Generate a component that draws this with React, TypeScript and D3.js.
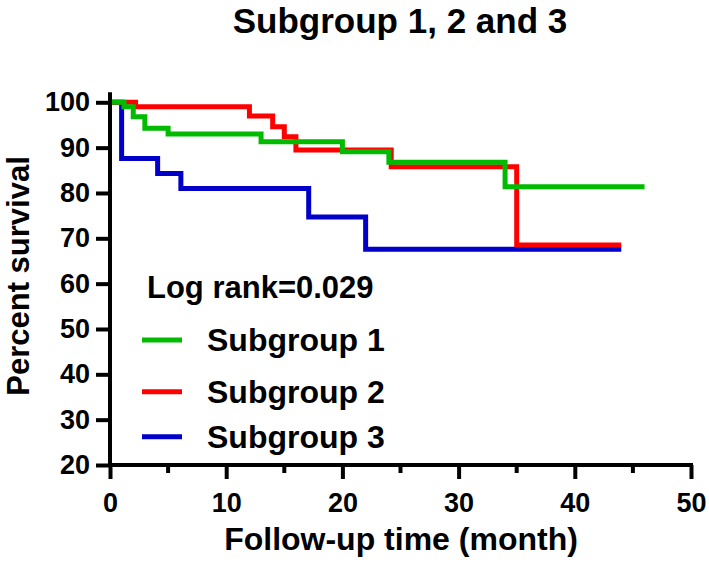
import { useEffect, useRef } from 'react';
import * as d3 from 'd3';

// Kaplan-Meier steps (time in months, percent surviving)
const group1Times = [0, 1.2, 2, 3, 5, 13, 20, 24, 34, 46];
const group1Surv = [100, 99.0, 96.8, 94.3, 93.0, 91.3, 89.1, 86.8, 81.4, 81.4];

const group2Times = [0, 2.2, 12, 14, 15, 16, 24.2, 35, 44];
const group2Surv = [100, 99.0, 97.0, 94.6, 92.4, 89.5, 85.8, 68.5, 68.5];

const group3Times = [0, 1, 4.1, 6.1, 17.1, 22, 44];
const group3Surv = [100, 87.6, 84.3, 81.0, 74.7, 67.6, 67.6];

const seriesNames = ['Subgroup 1', 'Subgroup 2', 'Subgroup 3'];
const seriesColors = ['#00BB00', '#FF0000', '#0000C8'];

const xTicks = [0, 10, 20, 30, 40, 50];
const xMinorTicks = [5, 15, 25, 35, 45];
const yTicks = [20, 30, 40, 50, 60, 70, 80, 90, 100];

const W = 709;
const H = 571;
const FONT = '"Liberation Sans", Arial, Helvetica, sans-serif';

export default function App() {
  const ref = useRef<SVGSVGElement>(null);

  useEffect(() => {
    if (!ref.current) return;
    const svg = d3.select(ref.current);
    svg.selectAll('*').remove();

    const left = 110, right = 691, top = 102.3, bottom = 465;
    const x = d3.scaleLinear().domain([0, 50]).range([left, right]);
    const y = d3.scaleLinear().domain([20, 100]).range([bottom, top]);

    // title
    svg.append('text')
      .attr('x', 400).attr('y', 33)
      .attr('text-anchor', 'middle')
      .attr('font-family', FONT).attr('font-weight', 'bold').attr('font-size', 35)
      .text('Subgroup 1, 2 and 3');

    // curves: blue under red under green
    const series = [
      { t: group1Times, s: group1Surv, c: seriesColors[0] },
      { t: group2Times, s: group2Surv, c: seriesColors[1] },
      { t: group3Times, s: group3Surv, c: seriesColors[2] },
    ];
    const line = d3.line<[number, number]>()
      .x(d => x(d[0]))
      .y(d => y(d[1]))
      .curve(d3.curveStepAfter);

    [2, 1, 0].forEach(i => {
      const pts = series[i].t.map((t, k) => [t, series[i].s[k]] as [number, number]);
      svg.append('path')
        .attr('d', line(pts))
        .attr('fill', 'none')
        .attr('stroke', series[i].c)
        .attr('stroke-width', 5)
        .attr('stroke-linejoin', 'miter');
    });

    // y axis
    const gy = svg.append('g').attr('transform', `translate(${left},0)`);
    gy.call(d3.axisLeft(y).tickValues(yTicks).tickSize(14).tickPadding(6).tickFormat(d3.format('d')) as any);
    gy.select('.domain').remove();
    gy.append('line')
      .attr('x1', 0).attr('x2', 0)
      .attr('y1', y(102.2)).attr('y2', bottom + 2)
      .attr('stroke', '#000').attr('stroke-width', 4);
    gy.selectAll('.tick line').attr('stroke', '#000').attr('stroke-width', 4);
    gy.selectAll('.tick text')
      .attr('font-family', FONT).attr('font-weight', 'bold').attr('font-size', 27)
      .attr('fill', '#000');

    // x axis
    const gx = svg.append('g').attr('transform', `translate(0,${bottom})`);
    gx.call(d3.axisBottom(x).tickValues(xTicks).tickSize(14).tickPadding(14).tickFormat(d3.format('d')) as any);
    gx.select('.domain').remove();
    gx.append('line')
      .attr('x1', left - 2).attr('x2', right + 2)
      .attr('y1', 0).attr('y2', 0)
      .attr('stroke', '#000').attr('stroke-width', 4);
    gx.selectAll('.tick line').attr('stroke', '#000').attr('stroke-width', 4);
    gx.selectAll('.tick text')
      .attr('font-family', FONT).attr('font-weight', 'bold').attr('font-size', 27)
      .attr('fill', '#000');
    gx.selectAll('.minor')
      .data(xMinorTicks)
      .enter().append('line')
      .attr('x1', d => x(d)).attr('x2', d => x(d))
      .attr('y1', 0).attr('y2', 8)
      .attr('stroke', '#000').attr('stroke-width', 4);

    // axis titles
    svg.append('text')
      .attr('x', 401).attr('y', 550)
      .attr('text-anchor', 'middle')
      .attr('font-family', FONT).attr('font-weight', 'bold').attr('font-size', 32)
      .text('Follow-up time (month)');

    svg.append('text')
      .attr('transform', `translate(29,276) rotate(-90)`)
      .attr('text-anchor', 'middle')
      .attr('font-family', FONT).attr('font-weight', 'bold').attr('font-size', 31)
      .text('Percent survival');

    // legend
    svg.append('text')
      .attr('x', 147).attr('y', 298)
      .attr('font-family', FONT).attr('font-weight', 'bold').attr('font-size', 31)
      .text('Log rank=0.029');

    const legendY = [340, 391.7, 436.7];
    seriesNames.forEach((name, i) => {
      svg.append('line')
        .attr('x1', 142).attr('x2', 182)
        .attr('y1', legendY[i]).attr('y2', legendY[i])
        .attr('stroke', seriesColors[i]).attr('stroke-width', 5);
      svg.append('text')
        .attr('x', 207).attr('y', legendY[i] + 11)
        .attr('font-family', FONT).attr('font-weight', 'bold').attr('font-size', 32)
        .text(name);
    });
  }, []);

  return (
    <svg
      ref={ref}
      width={W}
      height={H}
      style={{ position: 'absolute', left: 0, top: 0, background: '#fff' }}
    />
  );
}
